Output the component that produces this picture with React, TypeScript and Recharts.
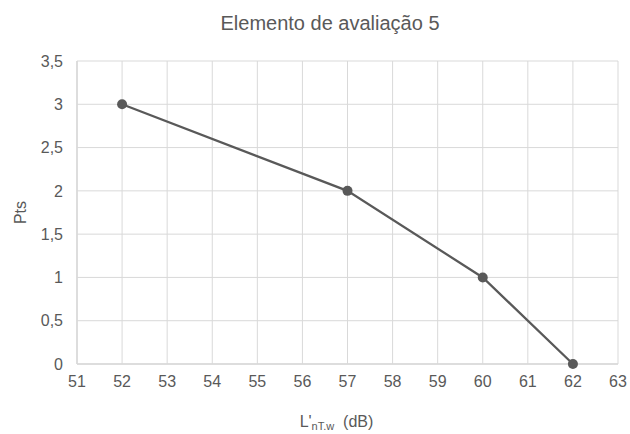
import React from "react";
import { LineChart, Line, XAxis, YAxis, CartesianGrid } from "recharts";

const title = "Elemento de avaliação 5";
const xValues = [52, 57, 60, 62];
const ptsValues = [3, 2, 1, 0];
const xTicks = [51, 52, 53, 54, 55, 56, 57, 58, 59, 60, 61, 62, 63];
const yTicks = [0, 0.5, 1, 1.5, 2, 2.5, 3, 3.5];
const yLabel = "Pts";
const xLabelMain = "L'";
const xLabelSub = "nT.w";
const xLabelUnit = " (dB)";

const data = xValues.map((x, i) => ({ x, pts: ptsValues[i] }));

const FONT = "'Liberation Sans', Arial, sans-serif";
const TEXT = "#595959";
const GRID = "#d9d9d9";

const fmt = (v: number) => String(v).replace(".", ",");

const XLabel = (props: any) => {
  const vb = props.viewBox || {};
  const cx = vb.x + vb.width / 2 - 11;
  const y = vb.y + 63;
  return (
    <text x={cx} y={y} textAnchor="middle" fill={TEXT} fontFamily={FONT} fontSize={16}>
      <tspan>{xLabelMain}</tspan>
      <tspan fontSize={11} dy={3}>{xLabelSub}</tspan>
      <tspan dy={-3}>{"\u00a0"}{xLabelUnit}</tspan>
    </text>
  );
};

const YLabel = (props: any) => {
  const vb = props.viewBox || {};
  const x = 26;
  const y = vb.y + vb.height / 2;
  return (
    <text
      x={x}
      y={y}
      textAnchor="middle"
      fill={TEXT}
      fontFamily={FONT}
      fontSize={16}
      transform={`rotate(-90 ${x} ${y})`}
    >
      {yLabel}
    </text>
  );
};

export default function App() {
  return (
    <div style={{ position: "absolute", left: 0, top: 0, width: 630, height: 434, background: "#fff" }}>
      <div
        style={{
          position: "absolute",
          left: 0,
          top: 13,
          width: 660,
          textAlign: "center",
          fontFamily: FONT,
          fontSize: 20,
          lineHeight: "20px",
          color: TEXT,
          whiteSpace: "nowrap",
        }}
      >
        {title}
      </div>
      <LineChart
        width={630}
        height={434}
        data={data}
        margin={{ top: 61, right: 12, left: 0, bottom: 0 }}
      >
        <CartesianGrid stroke={GRID} strokeWidth={1} vertical horizontal />
        <XAxis
          type="number"
          dataKey="x"
          domain={[51, 63]}
          ticks={xTicks}
          interval={0}
          height={70}
          axisLine={{ stroke: GRID, strokeWidth: 1.5 }}
          tickLine={false}
          tickSize={6}
          tickMargin={6}
          tick={{ fill: TEXT, fontFamily: FONT, fontSize: 16 }}
          label={<XLabel />}
        />
        <YAxis
          type="number"
          domain={[0, 3.5]}
          ticks={yTicks}
          interval={0}
          width={77}
          axisLine={{ stroke: GRID, strokeWidth: 1.5 }}
          tickLine={false}
          tickSize={6}
          tickMargin={8}
          tickFormatter={fmt}
          tick={{ fill: TEXT, fontFamily: FONT, fontSize: 16 }}
          label={<YLabel />}
        />
        <Line
          type="linear"
          dataKey="pts"
          stroke="#595959"
          strokeWidth={2.25}
          dot={{ r: 5, fill: "#595959", stroke: "#595959", strokeWidth: 0 }}
          activeDot={false}
          isAnimationActive={false}
        />
      </LineChart>
    </div>
  );
}
